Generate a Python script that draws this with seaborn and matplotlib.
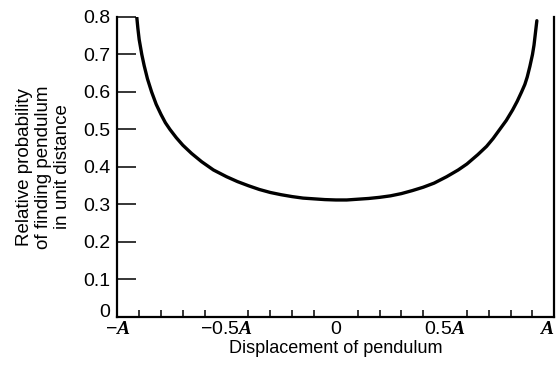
import numpy as np
import pandas as pd
import matplotlib
matplotlib.use("Agg")
import matplotlib.pyplot as plt
import seaborn as sns

# Curve values (displacement in units of A)
displacement = [-0.911, -0.906, -0.900, -0.888, -0.877, -0.862, -0.843, -0.822,
                -0.800, -0.780, -0.759, -0.730, -0.700, -0.660, -0.614, -0.560,
                -0.500, -0.450, -0.400, -0.350, -0.300, -0.250, -0.200, -0.150,
                -0.100, -0.050, 0.000,
                0.050, 0.100, 0.150, 0.200, 0.250, 0.300, 0.350, 0.400, 0.450,
                0.507, 0.560, 0.600, 0.650, 0.690, 0.720, 0.750, 0.780, 0.809,
                0.830, 0.850, 0.865, 0.876, 0.888, 0.900, 0.907, 0.912, 0.917, 0.920]
probability = [0.800, 0.770, 0.740, 0.700, 0.670, 0.635, 0.600, 0.567,
               0.540, 0.518, 0.500, 0.478, 0.458, 0.436, 0.414, 0.392,
               0.374, 0.361, 0.350, 0.340, 0.332, 0.326, 0.321, 0.317,
               0.315, 0.313, 0.312,
               0.312, 0.314, 0.316, 0.319, 0.323, 0.329, 0.337, 0.346, 0.357,
               0.374, 0.392, 0.408, 0.433, 0.455, 0.476, 0.500, 0.524, 0.552,
               0.575, 0.600, 0.620, 0.640, 0.668, 0.700, 0.725, 0.750, 0.775, 0.790]

x_ticks = [-1.0, -0.5, 0.0, 0.5, 1.0]
x_tick_labels = ["\u2212$A$", "\u22120.5$A$", "0", "0.5$A$", "$A$"]
y_ticks = [0.0, 0.1, 0.2, 0.3, 0.4, 0.5, 0.6, 0.7, 0.8]
y_tick_labels = ["0", "0.1", "0.2", "0.3", "0.4", "0.5", "0.6", "0.7", "0.8"]

sns.set_theme(style="white")
plt.rcParams['font.family'] = ['Liberation Sans', 'DejaVu Sans']
plt.rcParams['mathtext.fontset'] = 'custom'
plt.rcParams['mathtext.it'] = 'Liberation Serif:italic:bold'
plt.rcParams['mathtext.rm'] = 'Liberation Sans'

df = pd.DataFrame({"x": displacement, "y": probability})

fig = plt.figure(figsize=(5.56, 3.69), dpi=100)
ax = fig.add_axes([0.211, 0.141, 0.786, 0.813])
sns.lineplot(data=df, x="x", y="y", color="black", linewidth=2.4, sort=False,
             solid_joinstyle="round", solid_capstyle="round", ax=ax)

ax.set_xlim(-1, 1)
ax.set_ylim(0, 0.8)
ax.set_xticks(x_ticks)
ax.set_xticklabels(x_tick_labels, fontsize=14)
ax.set_xticks(np.arange(-0.9, 0.95, 0.1), minor=True)
ax.set_yticks(y_ticks)
ax.set_yticklabels(y_tick_labels, fontsize=14)

ax.tick_params(axis="x", which="major", direction="in", length=8.5, width=1.1,
               color="black", pad=3, labelcolor="black")
ax.tick_params(axis="x", which="minor", direction="in", length=5, width=1.1,
               color="black", bottom=True)
ax.tick_params(axis="y", which="major", direction="in", length=14, width=1.1,
               color="black", pad=5, labelcolor="black", left=True)

# the "0" on the y axis sits on the axis line, the last "A" hugs the edge
ax.get_yticklabels()[0].set_verticalalignment("baseline")
ax.get_xticklabels()[-1].set_horizontalalignment("right")

for side in ["left", "bottom", "right"]:
    ax.spines[side].set_visible(True)
    ax.spines[side].set_color("black")
    ax.spines[side].set_linewidth(1.6)
ax.spines["top"].set_visible(False)

ax.set_xlabel("Displacement of pendulum", fontsize=13, color="black", labelpad=1)
ax.set_ylabel("Relative probability\nof finding pendulum\nin unit distance",
              fontsize=13.5, color="black", labelpad=9, linespacing=1.15)

fig.savefig("out.png", dpi=100)
